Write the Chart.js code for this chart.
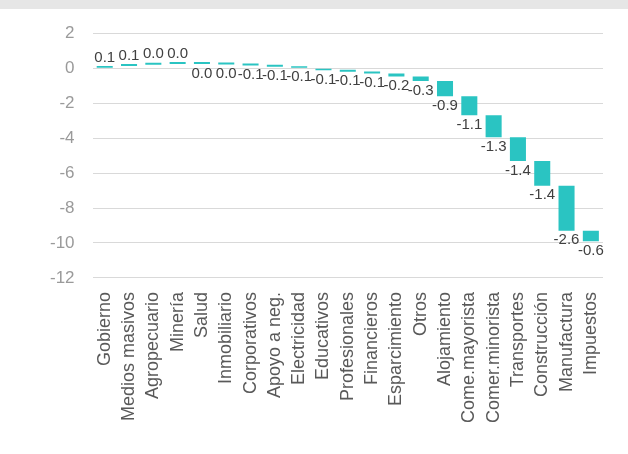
<!DOCTYPE html>
<html>
<head>
<meta charset="utf-8">
<script src="https://cdn.jsdelivr.net/npm/chart.js@4"></script>
<style>
  html, body { margin: 0; padding: 0; background: #ffffff; }
  #band { position: absolute; left: 0; top: 0; width: 628px; height: 9px; background: #e6e6e6; z-index: 2; }
  #wrap { position: absolute; left: 0; top: 5px; width: 628px; height: 449px; }
</style>
</head>
<body>
<div id="band"></div>
<div id="wrap"><canvas id="waterfall" width="628" height="449"></canvas></div>
<script>
var sectors = [
    "Gobierno", "Medios masivos", "Agropecuario", "Minería", "Salud",
    "Inmobiliario", "Corporativos", "Apoyo a neg.", "Electricidad", "Educativos",
    "Profesionales", "Financieros", "Esparcimiento", "Otros", "Alojamiento",
    "Come.mayorista", "Comer.minorista", "Transportes", "Construcción", "Manufactura",
    "Impuestos"
];
// contribution of each sector (percentage points)
var contributions = [
    0.12, 0.08, 0.04, 0.02, -0.02,
    -0.03, -0.06, -0.07, -0.08, -0.09,
    -0.10, -0.11, -0.17, -0.26, -0.88,
    -1.08, -1.26, -1.36, -1.41, -2.58,
    -0.60
];
var yTicks = [2, 0, -2, -4, -6, -8, -10, -12];

var fontFamily = "'Liberation Sans', Arial, sans-serif";

// build floating bars [start, end] from the running total
var running = 0;
var floating = contributions.map(function (v) {
    var start = running;
    running += v;
    return [start, running];
});

// draws the value at the end of every bar
var valueLabels = {
    id: "valueLabels",
    afterDatasetsDraw: function (chart) {
        var ctx = chart.ctx;
        var meta = chart.getDatasetMeta(0);
        ctx.save();
        ctx.font = "15px " + fontFamily;
        ctx.fillStyle = "#404040";
        ctx.textAlign = "center";
        meta.data.forEach(function (bar, i) {
            var v = contributions[i];
            var text = v.toFixed(1);
            if (text === "-0.0") text = "0.0";
            var top = Math.min(bar.y, bar.base);
            var bottom = Math.max(bar.y, bar.base);
            if (v >= 0) {
                ctx.textBaseline = "bottom";
                ctx.fillText(text, bar.x, top - 1);
            } else {
                ctx.textBaseline = "top";
                ctx.fillText(text, bar.x, bottom + 2);
            }
        });
        ctx.restore();
    }
};

var ctx = document.getElementById("waterfall").getContext("2d");
var chart = new Chart(ctx, {
    type: "bar",
    data: {
        labels: sectors,
        datasets: [{
            data: floating,
            backgroundColor: "#2ac4c2",
            borderWidth: 0,
            barPercentage: 0.66,
            categoryPercentage: 1,
            minBarLength: 2
        }]
    },
    options: {
        responsive: false,
        animation: false,
        layout: { padding: { left: 32, right: 25, top: 4, bottom: 25 } },
        plugins: {
            legend: { display: false },
            tooltip: { enabled: false }
        },
        scales: {
            x: {
                grid: { display: false },
                border: { display: false },
                ticks: {
                    color: "#595959",
                    padding: 6,
                    font: { size: 18, family: fontFamily },
                    minRotation: 90,
                    maxRotation: 90,
                    autoSkip: false
                }
            },
            y: {
                min: -12,
                max: 2,
                afterBuildTicks: function (axis) {
                    axis.ticks = yTicks.map(function (t) { return { value: t }; });
                },
                grid: { color: "#d9d9d9", drawTicks: false },
                border: { display: false },
                ticks: {
                    color: "#9a9a9a",
                    padding: 18,
                    font: { size: 17, family: fontFamily }
                }
            }
        }
    },
    plugins: [valueLabels]
});
</script>
</body>
</html>
